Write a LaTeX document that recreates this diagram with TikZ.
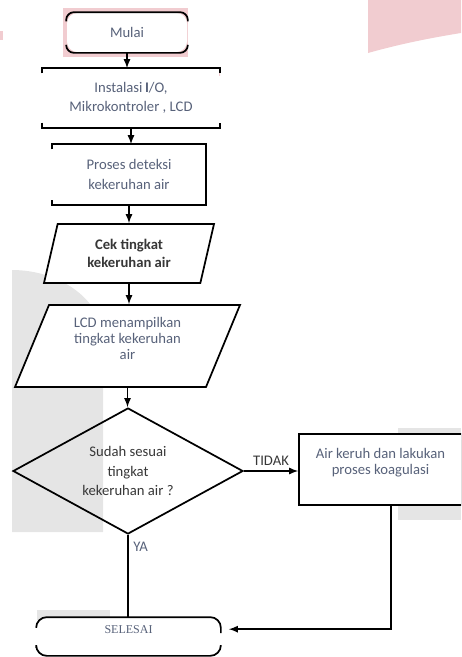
\documentclass[tikz,border=0pt]{standalone}
\usepackage{fontspec}
\setmainfont{Carlito}
\newfontfamily\selesaifont{Liberation Serif}
\usepackage{xcolor}
\usepackage{tikz}
\usetikzlibrary{positioning,shapes.geometric,arrows,calc}

\definecolor{txtblue}{RGB}{88,98,122}
\definecolor{txtdark}{RGB}{55,55,55}
\definecolor{pinkbg}{RGB}{241,204,208}
\definecolor{graybg}{RGB}{229,229,229}

\tikzset{
  terminal/.style={rectangle, rounded corners=8pt, fill=white, inner sep=0pt},
  bracketbox/.style={rectangle, fill=white, inner sep=0pt},
  datanode/.style={trapezium, draw, fill=white, trapezium stretches body, inner sep=0pt},
  decision/.style={diamond, draw, shape aspect=1.8, inner sep=0pt, text=txtdark},
  prosesbox/.style={rectangle, draw, fill=white, inner sep=0pt},
  arrowline/.style={-latex}
}

\begin{document}
\begin{tikzpicture}[x=0.75pt, y=-0.75pt, line width=1.3pt,
  every node/.style={font=\fontsize{11}{14.5}\selectfont, text=txtblue, align=center}]
  \useasboundingbox (0,0) rectangle (461,657);
  \clip (0,0) rectangle (461,657);

  % smudges of the scan
  \fill[pinkbg] (368,0) -- (461,0) -- (461,33) .. controls (430,38) and (400,44) .. (368,53) -- cycle;
  \fill[pinkbg] (0,31) rectangle (3,40);
  \fill[pinkbg] (63,8) rectangle (188,57);
  \fill[pinkbg] (176,68) -- (220,67) -- (220,76) -- cycle;
  \fill[graybg] (12,532) -- (12,270) .. controls (60,270) and (103,300) .. (103,340) -- (103,532) -- cycle;
  \fill[graybg] (398,428) rectangle (461,520);
  \fill[graybg] (37,610) rectangle (110,620);

\node (mulai) at (127,32.5) [terminal, minimum width=90pt, minimum height=29.25pt] {Mulai};
  \draw[rounded corners=6pt] ([yshift=-7pt]mulai.north west) -- (mulai.north west) -- (mulai.north east) -- ([yshift=-7pt]mulai.north east);
  \draw[rounded corners=6pt] ([yshift=6pt]mulai.south west) -- (mulai.south west) -- (mulai.south east) -- ([yshift=6pt]mulai.south east);

\node (inst) at (131,98) [bracketbox, minimum width=132pt, minimum height=43.5pt] {Instalasi\,\textbf{I}/O,\\Mikrokontroler , LCD};
  \draw ([yshift=-4pt]inst.north west) -- (inst.north west) -- (inst.north east) -- ([yshift=-4pt]inst.north east);
  \draw ([yshift=4pt]inst.south west) -- (inst.south west) -- (inst.south east) -- ([yshift=4pt]inst.south east);

\node (proses) at (129,174.5) [bracketbox, minimum width=114pt, minimum height=44.25pt] {Proses deteksi\\kekeruhan air};
  \draw ([yshift=-4pt]proses.north west) -- (proses.north west) -- (proses.north east) -- (proses.south east) -- (proses.south west) -- ([yshift=4pt]proses.south west);

\node (cek) at (129,253.5) [datanode, minimum width=127.5pt, minimum height=44.25pt,
    trapezium left angle=63.8, trapezium right angle=116.2,
    font=\fontsize{11}{13}\selectfont\bfseries, text=txtdark] {Cek tingkat\\kekeruhan air};

\node (lcd) at (127.5,346) [datanode, minimum width=168.75pt, minimum height=61.5pt,
    trapezium left angle=59.7, trapezium right angle=120.3,
    font=\fontsize{11}{12}\selectfont] {LCD menampilkan\\tingkat kekeruhan\\air\\\mbox{}};

\node (sesuai) at (128,471) [decision, minimum width=172.5pt, minimum height=94.5pt] {Sudah sesuai\\tingkat\\kekeruhan air ?};

\node (koag) at (380.5,469.5) [prosesbox, minimum width=122.25pt, minimum height=53.25pt,
    font=\fontsize{11}{12}\selectfont] {Air keruh dan lakukan\\proses koagulasi\\\mbox{}};

\node (selesai) at (128.5,636.5) [terminal, minimum width=137.25pt, minimum height=27.75pt,
    font=\selesaifont\fontsize{9}{11}\selectfont] {SELESAI\\\mbox{}};
  \draw[rounded corners=8pt] ([yshift=-8pt]selesai.north west) -- (selesai.north west) -- (selesai.north east) -- ([yshift=-12pt]selesai.north east);
  \draw[rounded corners=8pt] ([yshift=6pt]selesai.south west) -- (selesai.south west) -- (selesai.south east) -- ([yshift=7pt]selesai.south east);

  % connectors
  \draw[arrowline] (mulai.south) -- (mulai.south |- inst.north);
  \draw[arrowline] (inst.south) -- (inst.south |- proses.north);
  \draw[arrowline] (proses.south) -- (proses.south |- cek.north);
  \draw[arrowline] (cek.south) -- (cek.south |- lcd.north);
  \draw[arrowline] (lcd.south) -- (lcd.south |- sesuai.north);
  \draw[arrowline] (sesuai.east) -- node[above, text=txtdark] {TIDAK} (sesuai.east -| koag.west);
  \draw (sesuai.south) -- node[pos=0.15, right] {YA} (sesuai.south |- selesai.north);
  \draw[arrowline] ([xshift=8pt]koag.south) |- ([xshift=6pt,yshift=5.5pt]selesai.east);
\end{tikzpicture}
\end{document}
